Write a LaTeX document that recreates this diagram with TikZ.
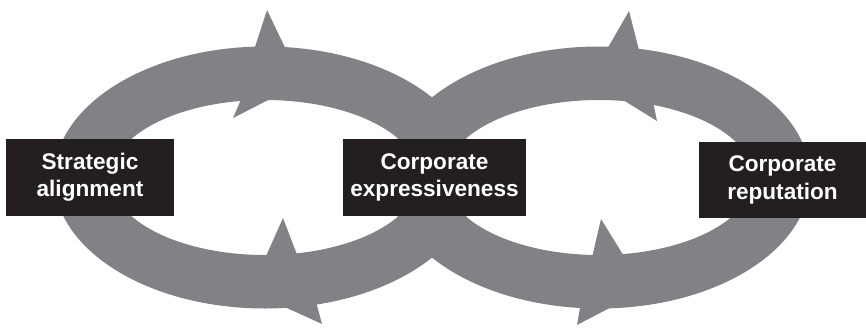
\documentclass[tikz,border=0pt]{standalone}
\usepackage{fontspec}
\setmainfont{Liberation Sans}
\definecolor{ringgray}{RGB}{128,130,133}
\definecolor{boxblack}{RGB}{35,31,32}
\begin{document}
\begin{tikzpicture}[x=1pt,y=-1pt,
  box/.style={fill=boxblack, text=white, font=\fontsize{22.6}{27.4}\selectfont\bfseries, align=center, inner sep=0pt},
  ring/.style={fill=ringgray, even odd rule},
  barb/.style={fill=ringgray}]
\useasboundingbox (0,0) rectangle (866,327);
% rings
\fill[ring] (265,177.5) ellipse [x radius=211pt, y radius=131pt] (265,177.5) ellipse [x radius=154pt, y radius=77.5pt];
\fill[ring] (599,177.5) ellipse [x radius=211pt, y radius=131pt] (599,177.5) ellipse [x radius=154pt, y radius=77.5pt];
% arrow barbs, left ring
\fill[barb] (250.8,60) -- (267,10) -- (291,60) -- cycle;
\fill[barb] (243,95) -- (233,118) -- (280,94) -- cycle;
\fill[barb] (276,303) -- (322,324) -- (315,298) -- cycle;
\fill[barb] (262,265) -- (283,218) -- (301,265) -- cycle;
% arrow barbs, right ring
\fill[barb] (602,58) -- (629,11) -- (641,58) -- cycle;
\fill[barb] (615,95) -- (657,121) -- (652,97) -- cycle;
\fill[barb] (590,266) -- (601,219) -- (630,266) -- cycle;
\fill[barb] (621,302) -- (577,325) -- (581,302) -- cycle;
% boxes
\node[box, minimum width=168pt, minimum height=77pt] (sa) at (90,177.5) {Strategic\\alignment};
\node[box, minimum width=183pt, minimum height=77pt] (ce) at (434.5,177.5) {Corporate\\expressiveness};
\node[box, minimum width=167pt, minimum height=76.5pt] (cr) at (782.5,180) {Corporate\\reputation};
\end{tikzpicture}
\end{document}
